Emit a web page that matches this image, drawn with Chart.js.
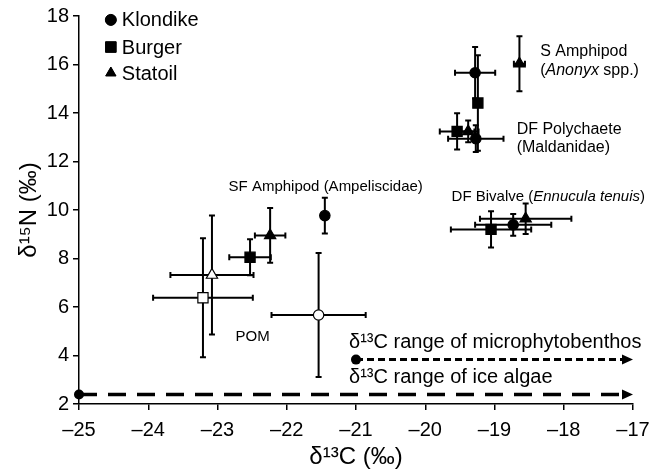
<!DOCTYPE html>
<html>
<head>
<meta charset="utf-8">
<script src="https://cdn.jsdelivr.net/npm/chart.js"></script>
<style>
  html, body { margin: 0; padding: 0; background: #fff; }
</style>
</head>
<body>
<canvas id="myChart" width="663" height="472"></canvas>
<script>
// sample order: SF Amphipod, DF Bivalve, DF Polychaete, S Amphipod, POM
const stations = ['Klondike', 'Burger', 'Statoil'];

const klondikeX    = [-21.45, -18.73, -19.27, -19.28, -21.54];
const klondikeY    = [9.77, 9.39, 12.94, 15.66, 5.67];
const klondikeXErr = [0.05, 0.55, 0.40, 0.29, 0.68];
const klondikeYErr = [0.74, 0.45, 0.55, 1.06, 2.56];

const burgerX    = [-22.53, -19.05, -19.54, -19.24, -23.21];
const burgerY    = [8.05, 9.20, 13.24, 14.41, 6.38];
const burgerXErr = [0.30, 0.58, 0.25, 0.05, 0.72];
const burgerYErr = [0.74, 0.75, 0.75, 1.97, 2.45];

const statoilX    = [-22.24, -18.55, -19.38, -18.64, -23.08];
const statoilY    = [8.95, 9.64, 13.24, 16.03, 7.32];
const statoilXErr = [0.22, 0.66, 0.15, 0.08, 0.60];
const statoilYErr = [1.13, 0.63, 0.45, 1.13, 2.45];

// d13C source ranges (start, end) and the d15N level they are drawn at
const microRange = [-21, -17];
const microLevel = 3.83;
const iceRange = [-25, -17];
const iceLevel = 2.39;

const xTicks = [-25, -24, -23, -22, -21, -20, -19, -18, -17];
const yTicks = [2, 4, 6, 8, 10, 12, 14, 16, 18];

const FONT = '"Liberation Sans", Arial, Helvetica, sans-serif';

function pts(xs, ys) {
  return xs.map((v, i) => ({ x: v, y: ys[i] }));
}
// last point of each station is POM -> open marker
const fills = ['#000', '#000', '#000', '#000', '#fff'];

const errorBars = {
  id: 'errorBars',
  beforeDatasetsDraw(chart) {
    const { ctx, scales: { x, y } } = chart;
    ctx.save();
    ctx.strokeStyle = '#000';
    ctx.lineWidth = 2;
    chart.data.datasets.forEach(ds => {
      if (!ds.xErr) return;
      ds.data.forEach((p, i) => {
        const px = x.getPixelForValue(p.x);
        const py = y.getPixelForValue(p.y);
        const x0 = x.getPixelForValue(p.x - ds.xErr[i]);
        const x1 = x.getPixelForValue(p.x + ds.xErr[i]);
        const y0 = y.getPixelForValue(p.y - ds.yErr[i]);
        const y1 = y.getPixelForValue(p.y + ds.yErr[i]);
        const c = 3;
        ctx.beginPath();
        ctx.moveTo(x0, py); ctx.lineTo(x1, py);
        ctx.moveTo(x0, py - c); ctx.lineTo(x0, py + c);
        ctx.moveTo(x1, py - c); ctx.lineTo(x1, py + c);
        ctx.moveTo(px, y0); ctx.lineTo(px, y1);
        ctx.moveTo(px - c, y0); ctx.lineTo(px + c, y0);
        ctx.moveTo(px - c, y1); ctx.lineTo(px + c, y1);
        ctx.stroke();
      });
    });
    ctx.restore();
  }
};

// text runs: [text, italic]
const notes = [
  { x: -18.34, y: 16.54, size: 16, runs: [['S Amphipod', false]] },
  { x: -18.34, y: 15.76, size: 16, runs: [['(', false], ['Anonyx', true], [' spp.)', false]] },
  { x: -18.68, y: 13.32, size: 16, runs: [['DF Polychaete', false]] },
  { x: -18.68, y: 12.57, size: 16, runs: [['(Maldanidae)', false]] },
  { x: -22.84, y: 10.94, size: 15, runs: [['SF Amphipod (Ampeliscidae)', false]] },
  { x: -19.62, y: 10.53, size: 15, runs: [['DF Bivalve (', false], ['Ennucula tenuis', true], [')', false]] },
  { x: -22.74, y: 4.75, size: 15, runs: [['POM', false]] },
  { x: -21.1, y: 4.55, size: 20, runs: [['\u03b4\u00b9\u00b3C range of microphytobenthos', false]] },
  { x: -21.1, y: 3.10, size: 20, runs: [['\u03b4\u00b9\u00b3C range of ice algae', false]] }
];

const annotations = {
  id: 'annotations',
  afterDatasetsDraw(chart) {
    const { ctx, scales: { x, y } } = chart;
    ctx.save();
    ctx.fillStyle = '#000';
    ctx.textBaseline = 'middle';
    ctx.textAlign = 'left';
    notes.forEach(n => {
      let px = x.getPixelForValue(n.x);
      const py = y.getPixelForValue(n.y);
      n.runs.forEach(([t, it]) => {
        ctx.font = (it ? 'italic ' : '') + n.size + 'px ' + FONT;
        ctx.fillText(t, px, py);
        px += ctx.measureText(t).width;
      });
    });

    // arrow heads on the range lines
    [[microRange[1], microLevel], [iceRange[1], iceLevel]].forEach(([vx, vy]) => {
      const tx = x.getPixelForValue(vx), ty = y.getPixelForValue(vy);
      ctx.beginPath();
      ctx.moveTo(tx, ty);
      ctx.lineTo(tx - 11, ty - 5);
      ctx.lineTo(tx - 11, ty + 5);
      ctx.closePath();
      ctx.fill();
    });

    // legend
    const styles = ['circle', 'rect', 'triangle'];
    const radii = [5.5, 7.5, 6];
    const lx = x.getPixelForValue(-24.54);
    const ly = [17.84, 16.72, 15.65].map(v => y.getPixelForValue(v));
    stations.forEach((s, i) => {
      Chart.helpers.drawPoint(ctx, {
        pointStyle: styles[i], radius: radii[i], borderWidth: 1, rotation: 0
      }, lx, ly[i]);
      ctx.fillStyle = '#000';
      ctx.strokeStyle = '#000';
      ctx.fill();
      ctx.font = '20px ' + FONT;
      ctx.fillText(s, lx + 11, ly[i] + 1);
    });
    ctx.restore();
  }
};

new Chart(document.getElementById('myChart'), {
  type: 'scatter',
  data: {
    datasets: [
      {
        label: 'ice algae', type: 'line', clip: false,
        data: [{ x: iceRange[0], y: iceLevel }, { x: iceRange[1] - 0.12, y: iceLevel }],
        borderColor: '#000', borderWidth: 3.5, borderDash: [18, 11],
        pointRadius: [5, 0], pointBackgroundColor: '#000', pointBorderWidth: 0
      },
      {
        label: 'microphytobenthos', type: 'line', clip: false,
        data: [{ x: microRange[0], y: microLevel }, { x: microRange[1] - 0.12, y: microLevel }],
        borderColor: '#000', borderWidth: 3, borderDash: [7, 4],
        pointRadius: [5, 0], pointBackgroundColor: '#000', pointBorderWidth: 0
      },
      {
        label: 'Burger', data: pts(burgerX, burgerY),
        xErr: burgerXErr, yErr: burgerYErr,
        pointStyle: 'rect', pointRadius: 7.2,
        pointBackgroundColor: fills, pointBorderColor: '#000', pointBorderWidth: 1.2
      },
      {
        label: 'Statoil', data: pts(statoilX, statoilY),
        xErr: statoilXErr, yErr: statoilYErr,
        pointStyle: 'triangle', pointRadius: 6.5,
        pointBackgroundColor: fills, pointBorderColor: '#000', pointBorderWidth: 1.2
      },
      {
        label: 'Klondike', data: pts(klondikeX, klondikeY),
        xErr: klondikeXErr, yErr: klondikeYErr,
        pointStyle: 'circle', pointRadius: 5.2,
        pointBackgroundColor: fills, pointBorderColor: '#000', pointBorderWidth: 1.2
      }
    ]
  },
  options: {
    responsive: false,
    animation: false,
    devicePixelRatio: 1,
    layout: { padding: { top: 16, right: 30, left: 0, bottom: 0 } },
    plugins: {
      legend: { display: false },
      tooltip: { enabled: false }
    },
    scales: {
      x: {
        type: 'linear', min: -25, max: -17,
        afterFit: s => { s.height = 68; },
        afterBuildTicks: s => { s.ticks = xTicks.map(v => ({ value: v })); },
        grid: { drawOnChartArea: false, drawTicks: true, tickLength: 6, color: '#000', lineWidth: 1.5 },
        border: { display: true, color: '#000', width: 1.5 },
        ticks: {
          color: '#000', padding: 8, font: { family: FONT, size: 20 },
          callback: v => '\u2013' + Math.abs(v)
        },
        title: {
          display: true, text: '\u03b4\u00b9\u00b3C (\u2030)', color: '#000',
          font: { family: FONT, size: 24 }, padding: { top: 0, bottom: 0 }
        }
      },
      y: {
        type: 'linear', min: 2, max: 18,
        afterFit: s => { s.width = 79; },
        afterBuildTicks: s => { s.ticks = yTicks.map(v => ({ value: v })); },
        grid: { drawOnChartArea: false, drawTicks: true, tickLength: 6, color: '#000', lineWidth: 1.5 },
        border: { display: true, color: '#000', width: 1.5 },
        ticks: { color: '#000', padding: 4, font: { family: FONT, size: 20 } },
        title: {
          display: true, text: '\u03b4\u00b9\u2075N (\u2030)', color: '#000',
          font: { family: FONT, size: 24 }, padding: { top: 15, bottom: 0 }
        }
      }
    }
  },
  plugins: [errorBars, annotations]
});
</script>
</body>
</html>
